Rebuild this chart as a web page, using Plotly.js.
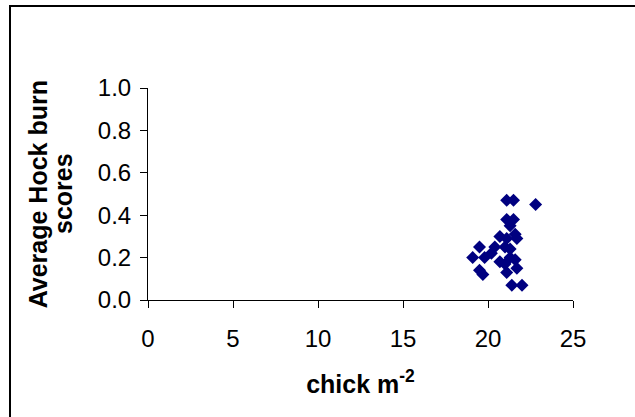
<!DOCTYPE html>
<html>
<head>
<meta charset="utf-8">
<script src="https://cdn.plot.ly/plotly-3.0.1.min.js"></script>
<style>
  html, body { margin: 0; padding: 0; background: #fff; }
  #chart { width: 635px; height: 417px; }
</style>
</head>
<body>
<div id="chart"></div>
<script>
// Stocking density (chicks per m²) against average hock burn score per flock
const density = [21.1, 21.5, 22.8, 21.1, 21.5, 21.3, 20.7, 21.6, 21.1, 21.7,
                 19.5, 20.4, 21.0, 21.3, 20.2, 19.1, 19.8, 21.3, 21.6, 19.5,
                 19.7, 21.0, 21.1, 21.7, 21.4, 22.0, 20.7];
const hockScore = [0.47, 0.47, 0.45, 0.38, 0.38, 0.35, 0.30, 0.31, 0.29, 0.29,
                   0.25, 0.25, 0.25, 0.24, 0.22, 0.20, 0.20, 0.20, 0.19, 0.14,
                   0.12, 0.17, 0.13, 0.15, 0.07, 0.07, 0.18];

const xTicks = [0, 5, 10, 15, 20, 25];
const yTicks = [0, 0.2, 0.4, 0.6, 0.8, 1.0];
const yTitleLines = ['Average Hock burn', 'scores'];

const font = 'Arial, "Liberation Sans", sans-serif';
const tickSize = 24;
const titleSize = 25;

const trace = {
  x: density,
  y: hockScore,
  type: 'scatter',
  mode: 'markers',
  marker: { symbol: 'diamond', size: 10, color: '#000080', line: { width: 0 } },
  cliponaxis: false,
  hoverinfo: 'x+y'
};

// y-axis title drawn as two rotated lines so their spacing can be set
const yTitleX = [-0.258, -0.2];
const yTitleAnnotations = yTitleLines.map((line, i) => ({
  text: line,
  xref: 'paper', yref: 'paper',
  x: yTitleX[i], y: 0.5,
  xanchor: 'center', yanchor: 'middle',
  textangle: -90,
  showarrow: false,
  font: { family: font, size: titleSize, color: '#000', weight: 'bold' }
}));

const layout = {
  width: 635,
  height: 417,
  margin: { l: 148, r: 62, t: 88, b: 117 },
  paper_bgcolor: '#fff',
  plot_bgcolor: '#fff',
  showlegend: false,
  font: { family: font, size: tickSize, color: '#000' },
  xaxis: {
    range: [0, 25],
    tickvals: xTicks,
    ticktext: xTicks.map(String),
    ticks: 'outside',
    ticklen: 7,
    tickwidth: 1,
    tickcolor: '#000',
    showline: true,
    linecolor: '#000',
    linewidth: 1,
    showgrid: false,
    zeroline: false,
    ticklabelstandoff: 10,
    tickfont: { family: font, size: tickSize, color: '#000' },
    title: {
      text: 'chick m<sup>-2</sup>',
      font: { family: font, size: titleSize, color: '#000', weight: 'bold' },
      standoff: 24
    },
    automargin: false
  },
  yaxis: {
    range: [0, 1],
    tickvals: yTicks,
    ticktext: yTicks.map(v => v.toFixed(1)),
    ticks: 'outside',
    ticklen: 7,
    tickwidth: 1,
    tickcolor: '#000',
    showline: true,
    linecolor: '#000',
    linewidth: 1,
    showgrid: false,
    zeroline: false,
    ticklabelstandoff: 4,
    tickfont: { family: font, size: tickSize, color: '#000' },
    automargin: false
  },
  annotations: yTitleAnnotations,
  shapes: [
    {
      // chart frame, only its top and left edges fall inside the canvas
      type: 'rect', xref: 'paper', yref: 'paper',
      x0: -0.3247, x1: 1.4, y0: -0.7, y1: 1.3868,
      line: { color: '#000', width: 2 }, fillcolor: 'rgba(0,0,0,0)'
    }
  ]
};

Plotly.newPlot('chart', [trace], layout, { staticPlot: true, displayModeBar: false });
</script>
</body>
</html>
